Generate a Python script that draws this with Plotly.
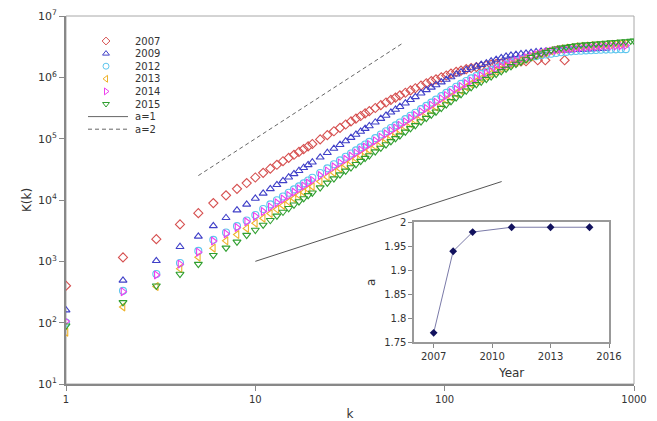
import plotly.graph_objects as go

# ---------------- data ----------------
K_ALL = [1, 2, 3, 4, 5, 6, 7, 8, 9, 10,
         11, 12, 13, 14, 15, 16, 17, 18, 19, 20,
         22, 24, 26, 28, 30, 32, 34, 36, 38, 40,
         43, 46, 49, 52, 55, 58, 62, 66, 70, 75,
         80, 85, 90, 96, 102, 108, 115, 122, 130, 138,
         147, 156, 166, 176, 187, 199, 211, 224, 238, 253,
         269, 286, 304, 323, 343, 365, 388, 412, 438, 465,
         494, 525, 558, 593, 630, 669, 711, 755, 802, 852,
         905, 961, 1000]

K_2007 = K_ALL[:61] + [310, 340, 430]
V_2007 = [400, 1160, 2300, 4000, 6100, 8900, 11900, 15200, 18900, 23300,
          27700, 32400, 37500, 42900, 48600, 54600, 60800, 67600, 74700, 81900,
          97100, 114000, 132000, 150000, 170000, 191000, 212000, 234000, 258000, 281000,
          316000, 352000, 389000, 429000, 468000, 509000, 560000, 612000, 664000, 731000,
          800000, 869000, 929000, 1.0e6, 1.07e6, 1.15e6, 1.23e6, 1.29e6, 1.36e6, 1.42e6,
          1.47e6, 1.52e6, 1.57e6, 1.61e6, 1.66e6, 1.69e6, 1.73e6, 1.76e6, 1.79e6, 1.81e6,
          1.83e6, 1.9e6, 1.9e6, 1.9e6]

V_2009 = [160, 490, 1020, 1730, 2550, 3790, 5130, 6840, 8470, 10600,
          12800, 15200, 17700, 20500, 23500, 26700, 30000, 33600, 37400, 41300,
          49700, 59000, 69000, 79800, 91400, 104000, 117000, 131000, 146000, 161000,
          185000, 212000, 239000, 269000, 299000, 332000, 378000, 430000, 481000, 551000,
          624000, 686000, 752000, 834000, 920000, 1.01e6, 1.12e6, 1.22e6, 1.33e6, 1.42e6,
          1.51e6, 1.61e6, 1.71e6, 1.83e6, 1.95e6, 2.07e6, 2.20e6, 2.28e6, 2.34e6, 2.40e6,
          2.46e6, 2.52e6, 2.59e6, 2.64e6, 2.66e6, 2.69e6, 2.71e6, 2.73e6, 2.75e6, 2.78e6,
          2.81e6, 2.83e6, 2.85e6, 2.88e6, 2.90e6, 2.92e6, 2.95e6]

V_2012 = [100, 330, 620, 940, 1480, 2240, 2960, 3750, 4640, 5680,
          7150, 8480, 9920, 11400, 13100, 14900, 16700, 18700, 20800, 23000,
          27600, 32800, 38300, 44300, 50600, 57400, 64500, 72200, 80400, 88800,
          102000, 117000, 132000, 149000, 165000, 183000, 208000, 237000, 264000, 303000,
          343000, 387000, 433000, 494000, 558000, 620000, 701000, 781000, 873000, 963000,
          1.05e6, 1.14e6, 1.23e6, 1.32e6, 1.42e6, 1.53e6, 1.63e6, 1.74e6, 1.85e6, 1.96e6,
          2.05e6, 2.13e6, 2.21e6, 2.29e6, 2.35e6, 2.42e6, 2.49e6, 2.56e6, 2.60e6, 2.65e6,
          2.69e6, 2.72e6, 2.75e6, 2.77e6, 2.79e6, 2.81e6, 2.83e6, 2.85e6, 2.86e6, 2.87e6,
          2.88e6]

V_2013 = [70, 180, 390, 760, 1170, 1640, 2160, 2730, 3440, 4190,
          5050, 6010, 7040, 8160, 9350, 10600, 12000, 13400, 15000, 16600,
          20000, 23800, 27900, 32300, 37000, 42100, 47400, 53100, 59300, 65600,
          75500, 86600, 98000, 110000, 123000, 137000, 156000, 177000, 199000, 228000,
          259000, 293000, 329000, 376000, 427000, 478000, 545000, 611000, 693000, 776000,
          863000, 950000, 1.04e6, 1.14e6, 1.25e6, 1.37e6, 1.49e6, 1.62e6, 1.75e6, 1.89e6,
          2.03e6, 2.17e6, 2.31e6, 2.45e6, 2.58e6, 2.72e6, 2.84e6, 2.93e6, 3.00e6, 3.07e6,
          3.15e6, 3.21e6, 3.26e6, 3.30e6, 3.33e6, 3.37e6, 3.41e6, 3.45e6, 3.49e6, 3.53e6,
          3.56e6]

V_2014 = [105, 320, 600, 900, 1410, 2140, 2820, 3570, 4420, 5410,
          6500, 7710, 9020, 10400, 11900, 13500, 15200, 17000, 18900, 20900,
          25100, 29800, 34800, 40300, 46000, 52200, 58600, 65600, 73100, 80700,
          92700, 106000, 120000, 135000, 150000, 166000, 189000, 215000, 240000, 275000,
          312000, 352000, 394000, 449000, 507000, 564000, 637000, 710000, 794000, 875000,
          966000, 1.06e6, 1.16e6, 1.26e6, 1.38e6, 1.50e6, 1.61e6, 1.73e6, 1.86e6, 2.00e6,
          2.11e6, 2.23e6, 2.36e6, 2.47e6, 2.56e6, 2.66e6, 2.76e6, 2.84e6, 2.88e6, 2.94e6,
          2.99e6, 3.05e6, 3.10e6, 3.13e6, 3.16e6, 3.18e6, 3.20e6, 3.23e6, 3.25e6, 3.27e6,
          3.30e6]

V_2015 = [89, 214, 400, 620, 900, 1260, 1660, 2080, 2670, 3240,
          3920, 4680, 5500, 6380, 7340, 8360, 9440, 10600, 11900, 13100,
          15900, 19000, 22300, 25900, 29800, 33900, 38300, 43000, 48100, 53200,
          61500, 70600, 80200, 90400, 101000, 112000, 129000, 147000, 165000, 190000,
          216000, 244000, 274000, 315000, 360000, 405000, 466000, 526000, 604000, 687000,
          769000, 847000, 935000, 1.03e6, 1.13e6, 1.25e6, 1.37e6, 1.51e6, 1.65e6, 1.79e6,
          1.95e6, 2.12e6, 2.26e6, 2.42e6, 2.58e6, 2.77e6, 2.93e6, 3.02e6, 3.11e6, 3.21e6,
          3.30e6, 3.37e6, 3.42e6, 3.47e6, 3.52e6, 3.57e6, 3.63e6, 3.69e6, 3.74e6, 3.80e6,
          3.85e6, 3.92e6, 3.95e6]

SERIES_NAMES = ["2007", "2009", "2012", "2013", "2014", "2015"]
SERIES_K = [K_2007, K_ALL[:len(V_2009)], K_ALL[:len(V_2012)], K_ALL[:len(V_2013)],
            K_ALL[:len(V_2014)], K_ALL[:len(V_2015)]]
SERIES_V = [V_2007, V_2009, V_2012, V_2013, V_2014, V_2015]

# reference power-law guide lines
REF1_K = [10, 200]
REF1_V = [1000, 20000]
REF2_K = [5, 60]
REF2_V = [25000, 3.6e6]
REF_NAMES = ["a=1", "a=2"]

# inset: exponent a by year
INSET_YEAR = [2007, 2008, 2009, 2011, 2013, 2015]
INSET_A = [1.77, 1.94, 1.98, 1.99, 1.99, 1.99]

X_TICK_VALS = [1, 10, 100, 1000]
X_TICK_TEXT = ["1", "10", "100", "1000"]
Y_TICK_VALS = [1e1, 1e2, 1e3, 1e4, 1e5, 1e6, 1e7]
Y_TICK_TEXT = ["10<sup>1</sup>", "10<sup>2</sup>", "10<sup>3</sup>", "10<sup>4</sup>",
               "10<sup>5</sup>", "10<sup>6</sup>", "10<sup>7</sup>"]
INSET_X_TICKS = [2007, 2010, 2013, 2016]

# ---------------- styles ----------------
COLORS = ["#d65050", "#4040c8", "#5ec6ee", "#eeb22a", "#ee40ee", "#2f9f2f"]
SYMBOLS = ["diamond-open", "triangle-up-open", "circle-open", "triangle-left-open",
           "triangle-right-open", "triangle-down-open"]
SIZES = [7, 7, 7, 7, 7, 7]
FONT = "DejaVu Sans"
TXT = "#333333"
AX = "#888888"

W, H = 657, 421
ML, MR, MT, MB = 66, 23, 16, 37
PW, PH = W - ML - MR, H - MT - MB

fig = go.Figure()

for name, ks, vs, col, sym, sz in zip(SERIES_NAMES, SERIES_K, SERIES_V, COLORS, SYMBOLS, SIZES):
    fig.add_trace(go.Scatter(
        x=ks, y=vs, mode="markers", name=name, showlegend=False,
        marker=dict(symbol=sym, size=sz, color=col, line=dict(width=1.1, color=col)),
    ))

fig.add_trace(go.Scatter(x=REF1_K, y=REF1_V, mode="lines", name=REF_NAMES[0],
                         showlegend=False, line=dict(color="#555555", width=1)))
fig.add_trace(go.Scatter(x=REF2_K, y=REF2_V, mode="lines", name=REF_NAMES[1],
                         showlegend=False, line=dict(color="#666666", width=1, dash="4px,3px")))

# inset
fig.add_trace(go.Scatter(
    x=INSET_YEAR, y=INSET_A, mode="lines+markers", xaxis="x2", yaxis="y2",
    showlegend=False,
    line=dict(color="#7a7aa8", width=1),
    marker=dict(symbol="diamond", size=6, color="#12125e"),
))

# hand-built compact legend (pixel layout inside the plot area)
LEG_MARK_X = 40
LEG_TEXT_X = 67
LEG_LINE_X = [22, 62]
LEG_ROW0 = 25
LEG_STEP = 12.6
annotations = []
for i, (name, col, sym) in enumerate(zip(SERIES_NAMES, COLORS, SYMBOLS)):
    yy = LEG_ROW0 + i * LEG_STEP
    fig.add_trace(go.Scatter(
        x=[LEG_MARK_X], y=[yy], mode="markers", xaxis="x3", yaxis="y3", showlegend=False,
        hoverinfo="skip",
        marker=dict(symbol=sym, size=6, color=col, line=dict(width=1, color=col)),
    ))
    annotations.append(dict(x=LEG_TEXT_X, y=yy, xref="x3", yref="y3", text=name,
                            showarrow=False, xanchor="left", yanchor="middle",
                            font=dict(family=FONT, size=10, color=TXT)))
for j, (name, dash) in enumerate(zip(REF_NAMES, ["solid", "4px,3px"])):
    yy = LEG_ROW0 + (len(SERIES_NAMES) + j) * LEG_STEP
    fig.add_trace(go.Scatter(
        x=LEG_LINE_X, y=[yy, yy], mode="lines", xaxis="x3", yaxis="y3", showlegend=False,
        hoverinfo="skip", line=dict(color="#666666", width=1, dash=dash),
    ))
    annotations.append(dict(x=LEG_TEXT_X, y=yy, xref="x3", yref="y3", text=name,
                            showarrow=False, xanchor="left", yanchor="middle",
                            font=dict(family=FONT, size=10, color=TXT)))

tickfont = dict(family=FONT, size=10, color=TXT)
ytickfont = dict(family=FONT, size=11, color=TXT)

fig.update_layout(
    width=W, height=H, autosize=False,
    margin=dict(l=ML, r=MR, t=MT, b=MB, pad=0, autoexpand=False),
    paper_bgcolor="white", plot_bgcolor="rgba(0,0,0,0)",
    font=dict(family=FONT, size=10, color=TXT),
    showlegend=False,
    annotations=annotations,
    shapes=[dict(type="rect", xref="paper", yref="paper", x0=0, x1=1, y0=0, y1=1,
                 line=dict(color="#a8a8a8", width=1), layer="below")],
    xaxis=dict(type="log", range=[0, 3], tickvals=X_TICK_VALS, ticktext=X_TICK_TEXT,
               ticks="outside", ticklen=5, tickcolor=AX, tickwidth=1, automargin=False,
               showline=True, linecolor=AX, linewidth=2, showgrid=False, zeroline=False,
               tickfont=tickfont,
               title=dict(text="k", font=dict(family=FONT, size=12, color=TXT), standoff=6)),
    yaxis=dict(type="log", range=[1, 7], tickvals=Y_TICK_VALS, ticktext=Y_TICK_TEXT,
               ticks="outside", ticklen=5, tickcolor=AX, tickwidth=1, automargin=False,
               showline=True, linecolor=AX, linewidth=2, showgrid=False, zeroline=False,
               tickfont=ytickfont,
               title=dict(text="K(k)", font=dict(family=FONT, size=12, color=TXT), standoff=4)),
    xaxis2=dict(domain=[0.613, 0.956], anchor="y2", range=[2006, 2016], automargin=False,
                tickvals=INSET_X_TICKS, ticks="outside", ticklen=4, tickcolor=AX,
                showline=True, mirror=True, linecolor="#999999", linewidth=1.5,
                showgrid=False, zeroline=False, tickfont=tickfont,
                title=dict(text="Year", font=dict(family=FONT, size=12, color=TXT), standoff=7)),
    yaxis2=dict(domain=[0.113, 0.439], anchor="x2", range=[1.75, 2.0], dtick=0.05,
                ticks="outside", ticklen=4, tickcolor=AX, automargin=False,
                showline=True, mirror=True, linecolor="#999999", linewidth=1.5,
                showgrid=False, zeroline=False, tickfont=tickfont,
                title=dict(text="a", font=dict(family=FONT, size=12, color=TXT), standoff=6)),
    xaxis3=dict(domain=[0, 1], anchor="y3", range=[0, PW], visible=False, fixedrange=True,
                automargin=False),
    yaxis3=dict(domain=[0, 1], anchor="x3", range=[PH, 0], visible=False, fixedrange=True,
                automargin=False),
)

fig.write_html("out.html")
